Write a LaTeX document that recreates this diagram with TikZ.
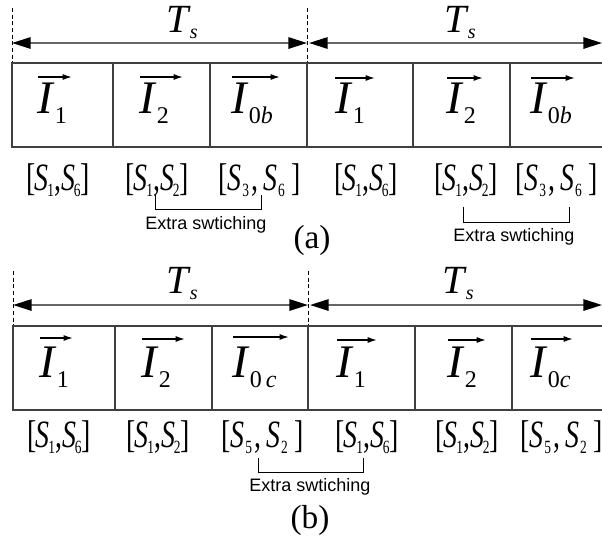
\documentclass[tikz,border=0pt]{standalone}
\usepackage{fontspec}
\setmainfont{Liberation Serif}
\newfontfamily\sansf{Liberation Sans}
\usetikzlibrary{arrows.meta}
\newcommand\Icur[1]{{\fontsize{35}{35}\selectfont\itshape I}\kern1.5pt\raisebox{-8pt}{\fontsize{18}{18}\selectfont #1}}
\newcommand\Tper{{\fontsize{30}{30}\selectfont\itshape T}\kern1pt\raisebox{-5pt}{\fontsize{15}{15}\selectfont\itshape s}}
\newcommand\Sw[1]{{\fontsize{14}{14}\selectfont\raisebox{-5pt}{#1}}}
\newcommand\Spair[4]{\scalebox{0.72}[1]{\fontsize{29}{29}\selectfont[\kern-1pt\textit{S}\kern-1pt\Sw{#1}#2\textit{S}\kern-1pt\Sw{#3}#4]}}
\tikzset{
  dimline/.style={draw=black!60, line width=1.5pt, {Triangle[length=14pt,width=8.5pt,color=black]}-{Triangle[length=14pt,width=8.5pt,color=black]}},
  period/.style={draw=black, line width=0.6pt, dash pattern=on 3pt off 2pt},
  boxline/.style={draw=black!75, line width=0.9pt},
  ovar/.style={draw=black, line width=1.1pt, -{Latex[length=7pt,width=4.5pt]}},
  curlab/.style={inner sep=0pt, anchor=base west},
  perlab/.style={inner sep=0pt, anchor=base west},
  swlab/.style={inner sep=0pt, anchor=center},
  extra/.style={inner sep=0pt, anchor=center, font=\sansf\fontsize{13.5}{13.5}\selectfont},
  brk/.style={draw=black, line width=0.6pt},
  caption/.style={inner sep=0pt, anchor=center, font=\fontsize{25}{25}\selectfont}
}
\begin{document}
\begin{tikzpicture}[x=0.75pt,y=-0.75pt]
\useasboundingbox[fill=white] (0,0) rectangle (602,537);
% ===== (a) =====
\coordinate (a0t) at (12,8); \coordinate (a0b) at (12,63);
\coordinate (a1t) at (307,8); \coordinate (a1b) at (307,63);
\coordinate (aend) at (602,43);
\draw[period] (a0t) -- (a0b);
\draw[period] (a1t) -- (a1b);
\draw[dimline] (12,43) -- (307,43);
\draw[dimline] (309,43) -- (aend);
\node[perlab] (ta1) at (166,32) {\Tper};
\node[perlab] (ta2) at (444,32) {\Tper};
\draw[boxline] (602,63) -- (12,63) -- (12,147) -- (602,147);
\foreach \x in {113,210,307,413,510} \draw[boxline] (\x,63) -- (\x,147);
\node[curlab] (ia1) at (37,113) {\Icur{1}};
\node[curlab] (ia2) at (139,113) {\Icur{2}};
\node[curlab] (ia3) at (231,113) {\Icur{0\textit{b}}};
\node[curlab] (ia4) at (335,113) {\Icur{1}};
\node[curlab] (ia5) at (446,113) {\Icur{2}};
\node[curlab] (ia6) at (530,113) {\Icur{0\textit{b}}};
\draw[ovar] (38,77) -- (72,77);
\draw[ovar] (140,77) -- (183,77);
\draw[ovar] (232,77) -- (280,77);
\draw[ovar] (335,78) -- (375,78);
\draw[ovar] (447,78) -- (483,78);
\draw[ovar] (531,78) -- (575,78);
\node[swlab] (sa1) at (58,180) {\Spair{1}{,}{6}{}};
\node[swlab] (sa2) at (157,180) {\Spair{1}{,}{2}{}};
\node[swlab] (sa3) at (260,180) {\Spair{\,3\,}{,\,}{\,6\,}{\,}};
\node[swlab] (sa4) at (366,180) {\Spair{1}{,}{6}{}};
\node[swlab] (sa5) at (466,180) {\Spair{1}{,}{2}{}};
\node[swlab] (sa6) at (557,180) {\Spair{\,3\,}{,\,}{\,6\,}{\,}};
\draw[brk] (155,195) -- (155,209) -- (261,209) -- (261,195);
\node[extra] (ea1) at (206,225) {Extra swtiching};
\draw[brk] (463,207) -- (463,222) -- (569,222) -- (569,207);
\node[extra] (ea2) at (514,237) {Extra swtiching};
\node[caption] (capa) at (312,240) {(a)};
% ===== (b) =====
\coordinate (b0t) at (13,271); \coordinate (b0b) at (13,326);
\coordinate (b1t) at (308,271); \coordinate (b1b) at (308,326);
\coordinate (bend) at (602,305);
\draw[period] (b0t) -- (b0b);
\draw[period] (b1t) -- (b1b);
\draw[dimline] (13,305) -- (308,305);
\draw[dimline] (310,305) -- (bend);
\node[perlab] (tb1) at (166,293) {\Tper};
\node[perlab] (tb2) at (442,293) {\Tper};
\draw[boxline] (602,326) -- (13,326) -- (13,410) -- (602,410);
\foreach \x in {115,212,308,415,512} \draw[boxline] (\x,326) -- (\x,410);
\node[curlab] (ib1) at (39,377) {\Icur{1}};
\node[curlab] (ib2) at (141,377) {\Icur{2}};
\node[curlab] (ib3) at (232,377) {\Icur{0\,\textit{c}}};
\node[curlab] (ib4) at (336,377) {\Icur{1}};
\node[curlab] (ib5) at (447,377) {\Icur{2}};
\node[curlab] (ib6) at (530,377) {\Icur{0\textit{c}}};
\draw[ovar] (40,338) -- (73,338);
\draw[ovar] (142,339) -- (185,339);
\draw[ovar] (233,337) -- (289,337);
\draw[ovar] (337,340) -- (377,340);
\draw[ovar] (448,340) -- (486,340);
\draw[ovar] (531,339) -- (573,339);
\node[swlab] (sb1) at (59,437) {\Spair{1}{,}{6}{}};
\node[swlab] (sb2) at (158,437) {\Spair{1}{,}{2}{}};
\node[swlab] (sb3) at (263,437) {\Spair{\,5\,}{,\,}{\,2\,}{\,}};
\node[swlab] (sb4) at (367,437) {\Spair{1}{,}{6}{}};
\node[swlab] (sb5) at (467,437) {\Spair{1}{,}{2}{}};
\node[swlab] (sb6) at (562,437) {\Spair{\,5\,}{,\,}{\,2\,}{\,}};
\draw[brk] (258,458) -- (258,472) -- (363,472) -- (363,458);
\node[extra] (eb1) at (310,487) {Extra swtiching};
\node[caption] (capb) at (310,520) {(b)};
\end{tikzpicture}
\end{document}
